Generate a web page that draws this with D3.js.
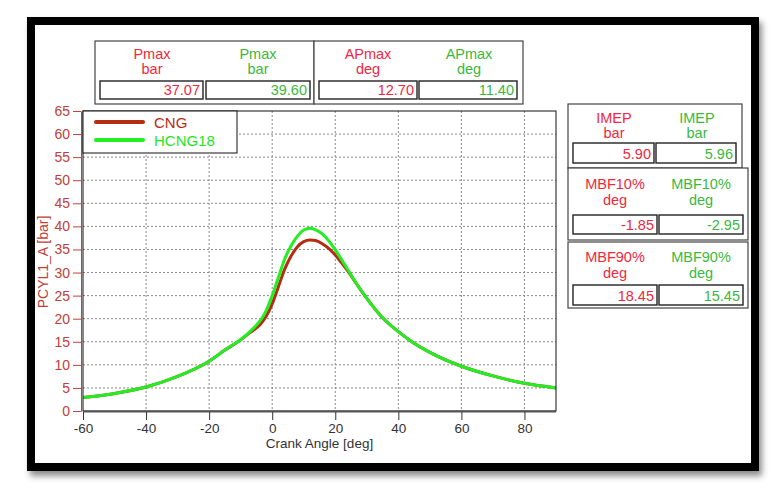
<!DOCTYPE html>
<html>
<head>
<meta charset="utf-8">
<script src="https://cdn.jsdelivr.net/npm/d3@7.9.0/dist/d3.min.js"></script>
<style>
  html, body { margin: 0; padding: 0; background: #fff; }
  svg { display: block; font-family: "Liberation Sans", Arial, sans-serif; }
</style>
</head>
<body>
<svg id="chart" width="779" height="495"></svg>
<script>
// ---- Data ----
const crankAngles = [-60, -50, -40, -30, -20, -15, -10, -8, -6, -4, -2, 0, 2, 4, 6, 8, 10, 12, 14, 16, 18, 20, 22, 24, 27, 30, 35, 40, 45, 50, 60, 70, 80, 90];
const pressureCNG = [2.9, 3.8, 5.2, 7.5, 10.8, 13.2, 15.4, 16.5, 17.5, 18.6, 20.4, 23.2, 27.0, 30.8, 33.6, 35.6, 36.7, 37.05, 36.9, 36.2, 35.2, 33.8, 32.1, 30.3, 27.3, 24.4, 20.2, 17.2, 14.7, 12.7, 9.7, 7.6, 6.0, 5.0];
const pressureHCNG = [2.9, 3.8, 5.2, 7.5, 10.8, 13.2, 15.5, 16.6, 17.9, 19.4, 21.6, 25.0, 29.0, 33.0, 35.8, 37.9, 39.2, 39.6, 39.2, 38.3, 36.8, 34.9, 32.8, 30.6, 27.3, 24.4, 20.2, 17.2, 14.7, 12.7, 9.7, 7.6, 6.0, 5.0];

const seriesNames = ['CNG', 'HCNG18'];
const xTicks = [-60, -40, -20, 0, 20, 40, 60, 80];
const yTicks = [0, 5, 10, 15, 20, 25, 30, 35, 40, 45, 50, 55, 60, 65];

// result tables
const resultNames = ['Pmax', 'APmax', 'IMEP', 'MBF10%', 'MBF90%'];
const resultUnits = ['bar', 'deg', 'bar', 'deg', 'deg'];
const resultCNG = ['37.07', '12.70', '5.90', '-1.85', '18.45'];
const resultHCNG = ['39.60', '11.40', '5.96', '-2.95', '15.45'];

// ---- Colours ----
const lineRed = '#b52c12';
const lineGreen = '#22ee22';
const tabRed = '#f0283c';
const tabGreen = '#3cb83c';
const axisRed = '#c0403a';

const svg = d3.select('#chart');

// ---- Frame with shadow ----
const defs = svg.append('defs');
const shadow = defs.append('filter').attr('id', 'shadow')
  .attr('x', '-5%').attr('y', '-5%').attr('width', '115%').attr('height', '115%');
shadow.append('feDropShadow')
  .attr('dx', 3).attr('dy', 5).attr('stdDeviation', 3)
  .attr('flood-color', '#000').attr('flood-opacity', 0.45);

svg.append('rect')
  .attr('x', 31).attr('y', 21).attr('width', 724).attr('height', 446)
  .attr('fill', '#fff').attr('stroke', '#000').attr('stroke-width', 8)
  .attr('filter', 'url(#shadow)');

// ---- Plot area ----
const plot = { left: 83, right: 556, top: 111, bottom: 411 };

const x = d3.scaleLinear().domain([-60, 90]).range([plot.left, plot.right]);
const y = d3.scaleLinear().domain([0, 65]).range([plot.bottom, plot.top]);

const g = svg.append('g');

// grid
g.append('g')
  .selectAll('line')
  .data(xTicks.filter((d) => d > -60))
  .join('line')
  .attr('x1', (d) => x(d)).attr('x2', (d) => x(d))
  .attr('y1', plot.top).attr('y2', plot.bottom)
  .attr('stroke', '#8a8a8a').attr('stroke-dasharray', '2,2');

g.append('g')
  .selectAll('line')
  .data(yTicks.filter((d) => d > 0 && d < 65))
  .join('line')
  .attr('x1', plot.left).attr('x2', plot.right)
  .attr('y1', (d) => y(d)).attr('y2', (d) => y(d))
  .attr('stroke', '#8a8a8a').attr('stroke-dasharray', '2,2');

// clip curves to plot
defs.append('clipPath').attr('id', 'plotclip')
  .append('rect')
  .attr('x', plot.left).attr('y', plot.top)
  .attr('width', plot.right - plot.left).attr('height', plot.bottom - plot.top);

const line = d3.line()
  .x((d) => x(d[0]))
  .y((d) => y(d[1]))
  .curve(d3.curveMonotoneX);

const curves = [
  { name: seriesNames[0], color: lineRed, values: pressureCNG },
  { name: seriesNames[1], color: lineGreen, values: pressureHCNG }
];

g.append('g').attr('clip-path', 'url(#plotclip)')
  .selectAll('path')
  .data(curves)
  .join('path')
  .attr('d', (c) => line(crankAngles.map((a, i) => [a, c.values[i]])))
  .attr('fill', 'none')
  .attr('stroke', (c) => c.color)
  .attr('stroke-width', 3)
  .attr('stroke-linejoin', 'round');

// box
g.append('rect')
  .attr('x', plot.left).attr('y', plot.top)
  .attr('width', plot.right - plot.left).attr('height', plot.bottom - plot.top)
  .attr('fill', 'none').attr('stroke', '#111').attr('stroke-width', 1);
g.append('line')
  .attr('x1', plot.left).attr('x2', plot.right)
  .attr('y1', plot.bottom + 0.5).attr('y2', plot.bottom + 0.5)
  .attr('stroke', '#555').attr('stroke-width', 2);

// x axis (plain hyphen for negatives, as in the reference)
const xAxis = d3.axisBottom(x).tickValues(xTicks).tickFormat((d) => String(d))
  .tickSize(8).tickPadding(3).tickSizeOuter(0);
const xg = svg.append('g')
  .attr('transform', `translate(0,${plot.bottom + 1})`)
  .call(xAxis);
xg.select('.domain').remove();
xg.selectAll('line').attr('stroke', '#333');
xg.selectAll('text').attr('fill', '#333').attr('font-size', 13.5)
  .attr('font-family', '"Liberation Sans", Arial, sans-serif');

svg.append('text')
  .attr('x', (plot.left + plot.right) / 2).attr('y', 448)
  .attr('text-anchor', 'middle').attr('font-size', 13.5).attr('fill', '#333')
  .text('Crank Angle [deg]');

// y axis
const yAxis = d3.axisLeft(y).tickValues(yTicks).tickFormat((d) => String(d))
  .tickSize(8).tickPadding(3).tickSizeOuter(0);
const yg = svg.append('g')
  .attr('transform', `translate(${plot.left - 2},0)`)
  .call(yAxis);
yg.select('.domain').attr('stroke', axisRed);
yg.selectAll('line').attr('stroke', axisRed);
yg.selectAll('text').attr('fill', axisRed).attr('font-size', 14)
  .attr('font-family', '"Liberation Sans", Arial, sans-serif');

svg.append('text')
  .attr('transform', `translate(47.5,${(plot.top + plot.bottom) / 2 + 1}) rotate(-90)`)
  .attr('text-anchor', 'middle').attr('font-size', 14).attr('fill', axisRed)
  .text('PCYL1_A [bar]');

// legend
const legend = svg.append('g');
legend.append('rect')
  .attr('x', plot.left).attr('y', plot.top)
  .attr('width', 154).attr('height', 42)
  .attr('fill', '#fff').attr('stroke', '#111');
const legendItems = legend.selectAll('g.item')
  .data(curves)
  .join('g')
  .attr('transform', (_, i) => `translate(0,${122 + i * 18})`);
legendItems.append('line')
  .attr('x1', 96).attr('x2', 143)
  .attr('stroke', (c) => c.color).attr('stroke-width', 4).attr('stroke-linecap', 'round');
legendItems.append('text')
  .attr('x', 154).attr('y', 5.5)
  .attr('font-size', 15)
  .attr('fill', (c, i) => (i === 0 ? lineRed : '#1ee61e'))
  .text((c) => c.name);

// ---- Result tables ----
// layout: one entry per result, in the order of resultNames
const tableLayout = [
  { box: [95, 41, 219, 63], cx: [152, 258], head: [59, 74], val: [81, 99, 95], vbox: [[100, 203], [206, 310]] },
  { box: [314, 41, 209, 63], cx: [368, 469], head: [59, 74], val: [81, 99, 95], vbox: [[319, 417], [419, 517]] },
  { box: [568, 104, 174, 64], cx: [614, 697], head: [122.5, 137.5], val: [143, 163, 159], vbox: [[573, 654], [656, 736]] },
  { box: [568, 168, 180, 72], cx: [615, 701], head: [189, 205], val: [215, 234, 229.5], vbox: [[573, 657], [659, 743]] },
  { box: [568, 242, 180, 66], cx: [615, 701], head: [262, 278], val: [285, 305, 300.5], vbox: [[573, 657], [659, 743]] }
];

const tables = svg.append('g').attr('font-size', 14.5);
resultNames.forEach((name, i) => {
  const L = tableLayout[i];
  const t = tables.append('g');
  t.append('rect')
    .attr('x', L.box[0]).attr('y', L.box[1]).attr('width', L.box[2]).attr('height', L.box[3])
    .attr('fill', '#fff').attr('stroke', '#444').attr('stroke-width', 1.2);
  const cols = [
    { color: tabRed, value: resultCNG[i] },
    { color: tabGreen, value: resultHCNG[i] }
  ];
  cols.forEach((c, j) => {
    t.append('text')
      .attr('x', L.cx[j]).attr('y', L.head[0])
      .attr('text-anchor', 'middle').attr('fill', c.color).text(name);
    t.append('text')
      .attr('x', L.cx[j]).attr('y', L.head[1])
      .attr('text-anchor', 'middle').attr('fill', c.color).text(resultUnits[i]);
    const [x0, x1] = L.vbox[j];
    t.append('rect')
      .attr('x', x0).attr('y', L.val[0]).attr('width', x1 - x0).attr('height', L.val[1] - L.val[0])
      .attr('fill', '#fff').attr('stroke', '#222').attr('stroke-width', 1.4);
    t.append('text')
      .attr('x', x1 - 3).attr('y', L.val[2])
      .attr('text-anchor', 'end').attr('fill', c.color).text(c.value);
  });
});
</script>
</body>
</html>
